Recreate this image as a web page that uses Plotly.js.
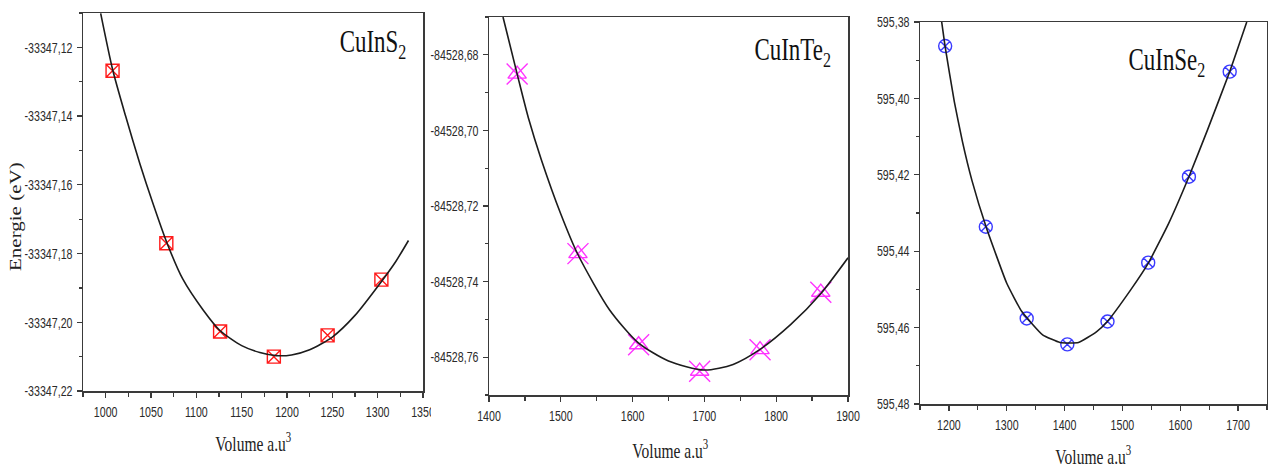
<!DOCTYPE html>
<html>
<head>
<meta charset="utf-8">
<script src="https://cdn.plot.ly/plotly-3.0.1.min.js"></script>
<style>
  html, body { margin: 0; padding: 0; background: #fff; }
  #chart { width: 1268px; height: 469px; }
  .annotation text.annotation-text { transform-box: fill-box; transform-origin: center; transform: scaleX(0.74); }
  .annotation[data-index="3"] text.annotation-text { transform: scaleY(0.78); }
</style>
</head>
<body>
<div id="chart"></div>
<script>
// ---------- CuInS2 ----------
const s_vol = [1007.6, 1066.9, 1126.2, 1185.5, 1244.8, 1304.1];
const s_energy = [-33347.1268, -33347.1770, -33347.2027, -33347.2100, -33347.2038, -33347.1876];
const s_fit_vol = [994.5, 1007.8, 1022, 1037.9, 1052, 1067.3, 1085, 1107.7, 1126, 1150, 1170, 1188, 1205, 1225, 1250, 1275, 1304, 1320, 1334];
const s_fit_energy = [-33347.1101, -33347.1266, -33347.1400, -33347.1540, -33347.1653, -33347.1767, -33347.1874, -33347.1965, -33347.2024, -33347.2068, -33347.2088, -33347.2097, -33347.2095, -33347.2080, -33347.2043, -33347.1980, -33347.1882, -33347.1823, -33347.1762];
const s_yticks = [-33347.22, -33347.20, -33347.18, -33347.16, -33347.14, -33347.12];
const s_yticktext = ["-33347,22", "-33347,20", "-33347,18", "-33347,16", "-33347,14", "-33347,12"];

// ---------- CuInTe2 ----------
const te_vol = [1439.2, 1523.9, 1608.4, 1693.4, 1777.5, 1862.1];
const te_energy = [-84528.6851, -84528.7326, -84528.7567, -84528.7637, -84528.7580, -84528.7428];
const te_fit_vol = [1419.5, 1439.5, 1455, 1473, 1500, 1524, 1568, 1608, 1650, 1700, 1740, 1777, 1820, 1862, 1900];
const te_fit_energy = [-84528.6700, -84528.6853, -84528.6968, -84528.7078, -84528.7221, -84528.7329, -84528.7475, -84528.7562, -84528.7610, -84528.7634, -84528.7619, -84528.7580, -84528.7514, -84528.7432, -84528.7337];
const te_yticks = [-84528.76, -84528.74, -84528.72, -84528.70, -84528.68];
const te_yticktext = ["-84528,76", "-84528,74", "-84528,72", "-84528,70", "-84528,68"];

// ---------- CuInSe2 ----------
const se_vol = [1193.5, 1263.8, 1334.5, 1404.7, 1474.2, 1544.6, 1615.0, 1685.5];
const se_energy = [-595.3863, -595.4336, -595.4576, -595.4644, -595.4584, -595.4430, -595.4205, -595.3930];
const se_fit_vol = [1187.5, 1193.3, 1209.4, 1223.2, 1240, 1264.2, 1300, 1326, 1362, 1392, 1424, 1455, 1474, 1514, 1544.5, 1580, 1615, 1647, 1685.5, 1715];
const se_fit_energy = [-595.3800, -595.3863, -595.4009, -595.4112, -595.4216, -595.4336, -595.4484, -595.4558, -595.4619, -595.4639, -595.4639, -595.4611, -595.4584, -595.4502, -595.4432, -595.4327, -595.4205, -595.4083, -595.3930, -595.3800];
const se_yticks = [-595.48, -595.46, -595.44, -595.42, -595.40, -595.38];
const se_yticktext = ["595,48", "595,46", "595,44", "595,42", "595,40", "595,38"];

// ---------- Labels ----------
const panelTitles = ["CuInS<sub>2</sub>", "CuInTe<sub>2</sub>", "CuInSe<sub>2</sub>"];
const yTitle = "Energie (eV)";
const xTitle = "Volume a.u<sup>3</sup>";

const W = 1268, H = 469;
const px = v => v / W;
const py = v => 1 - v / H;

const curveLine = { color: '#1c1c1c', width: 1.6 };
const traces = [
  { x: s_vol, y: s_energy, xaxis: 'x', yaxis: 'y', mode: 'markers',
    marker: { symbol: 'square-x-open', size: 13, color: '#ff1a1a', line: { width: 1.4, color: '#ff1a1a' } } },
  { x: s_fit_vol, y: s_fit_energy, xaxis: 'x', yaxis: 'y', mode: 'lines',
    line: Object.assign({ shape: 'spline', smoothing: 0.7 }, curveLine) },

  { x: te_vol, y: te_energy, xaxis: 'x2', yaxis: 'y2', mode: 'markers',
    marker: { symbol: 'triangle-up-open', size: 16, color: '#ff33ff', line: { width: 1.4, color: '#ff33ff' } } },
  { x: te_vol, y: te_energy, xaxis: 'x2', yaxis: 'y2', mode: 'markers',
    marker: { symbol: 'x-thin-open', size: 21, color: '#ff33ff', line: { width: 1.4, color: '#ff33ff' } } },
  { x: te_fit_vol, y: te_fit_energy, xaxis: 'x2', yaxis: 'y2', mode: 'lines',
    line: Object.assign({ shape: 'spline', smoothing: 0.7 }, curveLine) },

  { x: se_vol, y: se_energy, xaxis: 'x3', yaxis: 'y3', mode: 'markers',
    marker: { symbol: 'circle-x-open', size: 13, color: '#3a3aff', line: { width: 1.4, color: '#3a3aff' } } },
  { x: se_fit_vol, y: se_fit_energy, xaxis: 'x3', yaxis: 'y3', mode: 'lines',
    line: Object.assign({ shape: 'spline', smoothing: 0.4 }, curveLine) }
];

const tickFont = { family: '"Liberation Sans", Arial, sans-serif', size: 15, color: '#2a2a2a' };
const axCommon = {
  showgrid: false, zeroline: false, showline: true, mirror: true,
  linecolor: '#3a3a3a', linewidth: 1.5,
  ticks: 'outside', ticklen: 5, tickwidth: 1.2, tickcolor: '#3a3a3a',
  tickfont: tickFont, fixedrange: true
};
function xa(domain, range, dtick, minorDtick, tick0) {
  return Object.assign({}, axCommon, {
    domain, range, tickmode: 'linear', tick0, dtick, ticklabelstandoff: 2,
    minor: { tickmode: 'linear', tick0, dtick: minorDtick, ticklen: 4, tickwidth: 1.2, tickcolor: '#3a3a3a', showgrid: false }
  });
}
function ya(domain, range, tickvals, ticktext) {
  return Object.assign({}, axCommon, {
    domain, range, tickmode: 'array', tickvals, ticktext, ticklabelstandoff: 1,
    minor: { tickmode: 'linear', tick0: tickvals[0], dtick: 0.01, ticklen: 3, tickwidth: 1.2, tickcolor: '#3a3a3a', showgrid: false }
  });
}

const serif = '"Liberation Serif", "Times New Roman", serif';
const layout = {
  width: W, height: H,
  margin: { l: 0, r: 0, t: 0, b: 0 },
  paper_bgcolor: '#fff', plot_bgcolor: '#fff',
  showlegend: false,
  xaxis: xa([px(83), px(423)], [975, 1350], 50, 25, 1000),
  yaxis: ya([1 - 391 / H, 1 - 13 / H], [-33347.22, -33347.11], s_yticks, s_yticktext),
  xaxis2: Object.assign(xa([px(489), px(848)], [1400, 1900], 100, 50, 1400), { anchor: 'y2' }),
  yaxis2: Object.assign(ya([1 - 395 / H, 1 - 17 / H], [-84528.77, -84528.67], te_yticks, te_yticktext), { anchor: 'x2' }),
  xaxis3: Object.assign(xa([px(920), px(1267)], [1150, 1750], 100, 50, 1200), { anchor: 'y3' }),
  yaxis3: Object.assign(ya([1 - 404 / H, 1 - 22 / H], [-595.48, -595.38], se_yticks, se_yticktext), { anchor: 'x3' }),
  annotations: [
    { text: panelTitles[0], xref: 'paper', yref: 'paper', x: px(373), y: py(44), xanchor: 'center', yanchor: 'middle', showarrow: false, font: { family: serif, size: 31, color: '#111' } },
    { text: panelTitles[1], xref: 'paper', yref: 'paper', x: px(792), y: py(52), xanchor: 'center', yanchor: 'middle', showarrow: false, font: { family: serif, size: 31, color: '#111' } },
    { text: panelTitles[2], xref: 'paper', yref: 'paper', x: px(1167), y: py(62), xanchor: 'center', yanchor: 'middle', showarrow: false, font: { family: serif, size: 31, color: '#111' } },
    { text: yTitle, xref: 'paper', yref: 'paper', x: px(15), y: py(217), xanchor: 'center', yanchor: 'middle', textangle: -90, showarrow: false, font: { family: serif, size: 21, color: '#222' } },
    { text: xTitle, xref: 'paper', yref: 'paper', x: px(253), y: py(442), xanchor: 'center', yanchor: 'middle', showarrow: false, font: { family: serif, size: 21, color: '#222' } },
    { text: xTitle, xref: 'paper', yref: 'paper', x: px(670), y: py(449), xanchor: 'center', yanchor: 'middle', showarrow: false, font: { family: serif, size: 21, color: '#222' } },
    { text: xTitle, xref: 'paper', yref: 'paper', x: px(1093), y: py(455), xanchor: 'center', yanchor: 'middle', showarrow: false, font: { family: serif, size: 21, color: '#222' } }
  ],
  shapes: [
    { type: 'rect', xref: 'paper', yref: 'paper', layer: 'above', x0: px(431), x1: px(442), y0: py(425), y1: py(398), fillcolor: '#fff', line: { width: 0 } }
  ]
};

// Narrow the tick labels horizontally (the reference uses a condensed face)
function squeezeTicks(gd) {
  gd.querySelectorAll('.xaxislayer-above text, .yaxislayer-above text').forEach(t => {
    let base = t.getAttribute('data-base-transform');
    if (base === null) {
      base = t.getAttribute('transform') || '';
      t.setAttribute('data-base-transform', base);
    }
    const x = parseFloat(t.getAttribute('x')) || 0;
    t.setAttribute('transform', base + ' translate(' + x + ',0) scale(0.71,1) translate(' + (-x) + ',0)');
  });
}

Plotly.newPlot('chart', traces, layout, { displayModeBar: false, staticPlot: true }).then(squeezeTicks);
</script>
</body>
</html>
